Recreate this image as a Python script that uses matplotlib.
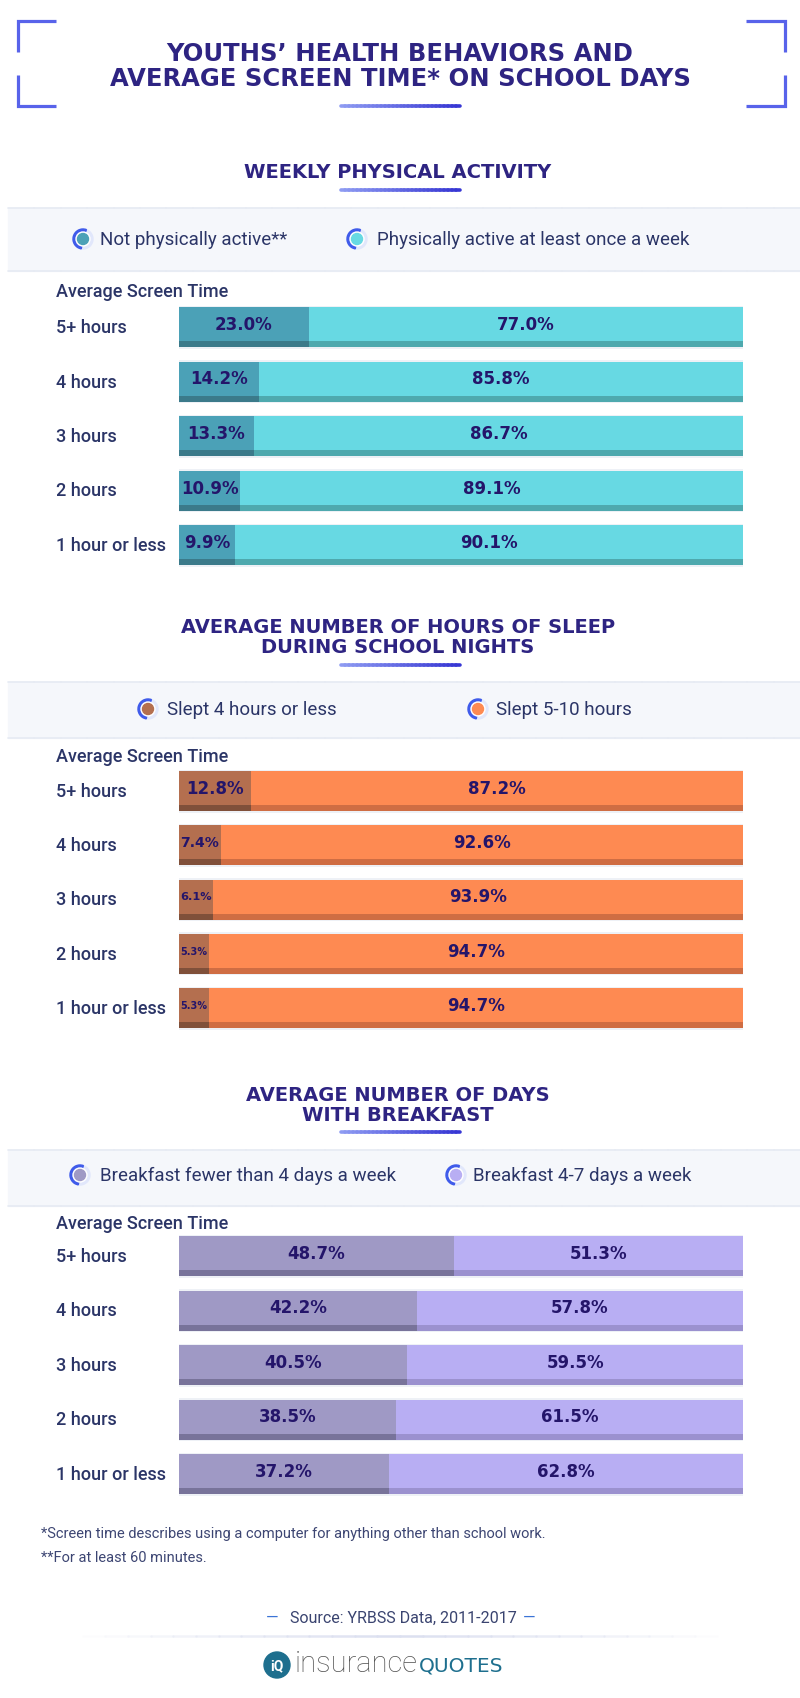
import matplotlib
matplotlib.use('Agg')
import matplotlib.pyplot as plt
from matplotlib.patches import Circle, Wedge, Rectangle
from matplotlib.collections import LineCollection
from matplotlib.colors import to_rgba
import numpy as np

W, H = 800, 1699

# ---------------- data ----------------
title_lines = ["YOUTHS’ HEALTH BEHAVIORS AND", "AVERAGE SCREEN TIME* ON SCHOOL DAYS"]
screen_time = ["5+ hours", "4 hours", "3 hours", "2 hours", "1 hour or less"]
axis_label = "Average Screen Time"

activity_title = ["WEEKLY PHYSICAL ACTIVITY"]
activity_legend = ["Not physically active**", "Physically active at least once a week"]
not_active = [23.0, 14.2, 13.3, 10.9, 9.9]
active = [77.0, 85.8, 86.7, 89.1, 90.1]

sleep_title = ["AVERAGE NUMBER OF HOURS OF SLEEP", "DURING SCHOOL NIGHTS"]
sleep_legend = ["Slept 4 hours or less", "Slept 5-10 hours"]
sleep_low = [12.8, 7.4, 6.1, 5.3, 5.3]
sleep_ok = [87.2, 92.6, 93.9, 94.7, 94.7]

breakfast_title = ["AVERAGE NUMBER OF DAYS", "WITH BREAKFAST"]
breakfast_legend = ["Breakfast fewer than 4 days a week", "Breakfast 4-7 days a week"]
breakfast_low = [48.7, 42.2, 40.5, 38.5, 37.2]
breakfast_high = [51.3, 57.8, 59.5, 61.5, 62.8]

footnotes = ["*Screen time describes using a computer for anything other than school work.",
             "**For at least 60 minutes."]
source_text = "Source: YRBSS Data, 2011-2017"
logo_words = ["insurance", "QUOTES"]

# ---------------- style ----------------
SANS = ['Roboto', 'DejaVu Sans']
WIDE = ['DejaVu Sans']
TITLE_C = '#2E2482'
LABEL_C = '#2B3567'
PCT_C = '#24156A'
BAR_X0, BAR_X1 = 179, 743

sections = [
    dict(title=activity_title, legend=activity_legend, a=not_active, b=active,
         cols=('#4BA1B7', '#67D9E3'), strips=('#3B7A8A', '#4EA9AE'),
         title_y=[173], underline_y=191, band=(209, 272), legend_y=240,
         markers=[(83, 100), (357, 377)], label_y=292, c0=328, pitch=54.5),
    dict(title=sleep_title, legend=sleep_legend, a=sleep_low, b=sleep_ok,
         cols=('#B46F4F', '#FE8A52'), strips=('#80503A', '#CF6D43'),
         title_y=[628, 648], underline_y=666, band=(683, 739), legend_y=710,
         markers=[(148, 167), (478, 496)], label_y=757, c0=792, pitch=54.25),
    dict(title=breakfast_title, legend=breakfast_legend, a=breakfast_low, b=breakfast_high,
         cols=('#9F99C5', '#B8AEF3'), strips=('#78739A', '#9B91CF'),
         title_y=[1096, 1116], underline_y=1133, band=(1151, 1207), legend_y=1176,
         markers=[(80, 100), (456, 473)], label_y=1224, c0=1257, pitch=54.5),
]

fig = plt.figure(figsize=(W / 100, H / 100), dpi=100)
fig.patch.set_facecolor('white')
bg = fig.add_axes([0, 0, 1, 1])
bg.set_xlim(0, W)
bg.set_ylim(H, 0)
bg.axis('off')


def grad_line(ax, x0, x1, y, c0, c1, lw, n=30, alphas=None):
    xs = np.linspace(x0, x1, n + 1)
    segs = [[(xs[i], y), (xs[i + 1], y)] for i in range(n)]
    r0, r1 = np.array(to_rgba(c0)), np.array(to_rgba(c1))
    cols = [r0 + (r1 - r0) * (i / (n - 1)) for i in range(n)]
    if alphas is not None:
        for i, c in enumerate(cols):
            c[3] = alphas[i]
    lc = LineCollection(segs, colors=cols, linewidths=lw, capstyle='round', zorder=3)
    ax.add_collection(lc)


def legend_marker(ax, x, y, color):
    ax.add_patch(Circle((x, y), 10, color='#E1E7FB', zorder=4))
    ax.add_patch(Wedge((x, y), 10, 100, 290, width=3, color='#3F5BEA', zorder=5))
    ax.add_patch(Circle((x, y), 7, color='white', zorder=6))
    ax.add_patch(Circle((x, y), 5.5, color=color, zorder=7))


# ---------------- header ----------------
bk = '#5863EA'
lwb = 2.3
for xs, ys in [([56, 18, 18], [22, 22, 53]), ([18, 18, 56], [76, 107, 107]),
               ([746, 785, 785], [22, 22, 53]), ([785, 785, 746], [76, 107, 107])]:
    bg.plot(xs, ys, color=bk, lw=lwb, solid_capstyle='butt', solid_joinstyle='miter', zorder=3)
grad_line(bg, 341, 460, 107, '#8E9BF2', '#3737D4', 2.6)
for i, line in enumerate(title_lines):
    bg.text(400, [54, 79][i], line, family=WIDE, fontsize=17.5, fontweight='bold',
            color=TITLE_C, ha='center', va='center', zorder=5)

pct_texts = []
for s in sections:
    # section title
    for t, ty in zip(s['title'], s['title_y']):
        bg.text(398, ty, t, family=WIDE, fontsize=14, fontweight='bold', color=TITLE_C,
                ha='center', va='center', zorder=5)
    grad_line(bg, 341, 460, s['underline_y'], '#8E9BF2', '#3737D4', 2.6)
    # legend band
    b0, b1 = s['band']
    bg.add_patch(Rectangle((8, b0), W - 8, b1 - b0, color='#F5F7FB', zorder=1))
    grad_line(bg, 8, W, b0, '#E6EAF3', '#E6EAF3', 1.2)
    grad_line(bg, 8, W, b1, '#E6EAF3', '#E6EAF3', 1.2)
    for (mx, tx), lab, col in zip(s['markers'], s['legend'], s['cols']):
        legend_marker(bg, mx, s['legend_y'], col)
        bg.text(tx, s['legend_y'], lab, family=SANS, fontsize=13.5, color=LABEL_C,
                ha='left', va='center', zorder=5)
    # axis label
    bg.text(56, s['label_y'], axis_label, family=SANS, fontsize=13, fontweight='medium',
            color=LABEL_C, ha='left', va='center', zorder=5)

    P = s['pitch']
    n = len(screen_time)
    top = s['c0'] - P / 2
    ax = fig.add_axes([BAR_X0 / W, 1 - (top + n * P) / H, (BAR_X1 - BAR_X0) / W, n * P / H])
    ax.set_xlim(0, 100)
    ax.set_ylim(n - 0.5, -0.5)
    ax.axis('off')
    ax.patch.set_alpha(0)
    y = np.arange(n)
    hb = 40 / P
    hs = 6 / P
    a = np.array(s['a'])
    b = np.array(s['b'])
    ax.barh(y, 100, height=hb + 3 / P, color='#EEF1F6', zorder=1)
    ax.barh(y, a, height=hb, color=s['cols'][0], zorder=2)
    ax.barh(y, b, left=a, height=hb, color=s['cols'][1], zorder=2)
    ax.barh(y + hb / 2 - hs / 2, a, height=hs, color=s['strips'][0], zorder=3)
    ax.barh(y + hb / 2 - hs / 2, b, left=a, height=hs, color=s['strips'][1], zorder=3)
    for i in range(n):
        for left, v in [(0, a[i]), (a[i], b[i])]:
            t = ax.text(left + v / 2, y[i] - hs / 2, f"{v:.1f}%", family=WIDE, fontsize=12,
                        fontweight='bold', color=PCT_C, ha='center', va='center', zorder=5)
            pct_texts.append((t, v))
        # category label
        yy = s['c0'] + i * P
        bg.text(56, yy, screen_time[i], family=SANS, fontsize=13, fontweight='medium',
                color=LABEL_C, ha='left', va='center', zorder=5)

# shrink percent labels that do not fit their segment
renderer = fig.canvas.get_renderer()
for t, v in pct_texts:
    seg_px = v / 100 * (BAR_X1 - BAR_X0)
    w = t.get_window_extent(renderer).width
    if w > seg_px - 3:
        t.set_fontsize(12 * (seg_px - 3) / w)

# ---------------- footer ----------------
for i, fn in enumerate(footnotes):
    bg.text(41, [1534, 1558][i], fn, family=SANS, fontsize=10.5, color='#3D4673',
            ha='left', va='center', zorder=5)
bg.text(272, 1618, "—", family=SANS, fontsize=11.5, color='#3B74D6', ha='center', va='center')
bg.text(403, 1618, source_text, family=SANS, fontsize=11.5, color='#3A4470', ha='center', va='center')
bg.text(529, 1618, "—", family=SANS, fontsize=11.5, color='#3B74D6', ha='center', va='center')
al = np.concatenate([np.linspace(0, 1, 15), np.linspace(1, 0, 15)])
grad_line(bg, 60, 740, 1637, '#DCE0F0', '#DCE0F0', 1.8, n=30, alphas=al)

bg.add_patch(Circle((277, 1666), 13, color='#1E6F8E', zorder=5))
bg.text(277, 1666, "iQ", family=SANS, fontsize=10, fontweight='bold', color='white',
        ha='center', va='center', zorder=6)
t_ins = bg.text(295, 1664, logo_words[0], family=SANS, fontsize=21, fontweight='light',
                color='#555555', ha='left', va='center', zorder=5)
ext = t_ins.get_window_extent(renderer)
x_end = bg.transData.inverted().transform((ext.x1, ext.y0))[0]
bg.text(x_end + 1, 1666, logo_words[1], family=WIDE, fontsize=14.5, color='#1E6F8E',
        ha='left', va='center', zorder=5)

fig.savefig('out.png', dpi=100, facecolor='white')
